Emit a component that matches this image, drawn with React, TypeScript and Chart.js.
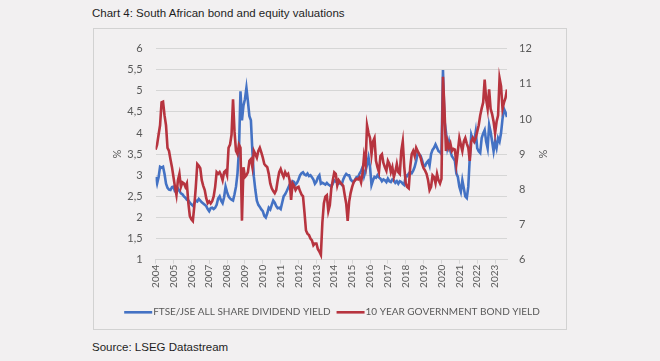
import React, { useEffect, useRef } from "react";
import { Chart, registerables } from "chart.js";

Chart.register(...registerables);

// ---------- data ----------
const FIRST_YEAR = 2004;
const years = [2004, 2005, 2006, 2007, 2008, 2009, 2010, 2011, 2012, 2013, 2014, 2015, 2016, 2017, 2018, 2019, 2020, 2021, 2022, 2023];

// FTSE/JSE All Share dividend yield (%), monthly from Jan 2004 (left axis)
const dividendYield = [
  2.96, 2.80, 2.95, 3.20, 3.18, 3.20, 3.03, 2.80, 2.70, 2.66, 2.65, 2.72,
  2.73, 2.62, 2.60, 2.69, 2.63, 2.57, 2.55, 2.50, 2.47, 2.42, 2.40, 2.35,
  2.31, 2.28, 2.34, 2.40, 2.38, 2.44, 2.40, 2.36, 2.33, 2.30, 2.27, 2.20,
  2.15, 2.22, 2.23, 2.20, 2.23, 2.30, 2.45, 2.50, 2.40, 2.34, 2.48, 2.73,
  2.60, 2.50, 2.45, 2.42, 2.40, 2.55, 2.73, 3.04, 3.60, 4.99, 4.30, 4.65,
  4.80, 5.07, 4.75, 4.40, 4.30, 3.57, 2.96, 2.65, 2.40, 2.30, 2.25, 2.19,
  2.15, 2.04, 2.00, 2.10, 2.23, 2.19, 2.30, 2.40, 2.35, 2.27, 2.22, 2.23,
  2.20, 2.35, 2.50, 2.55, 2.62, 2.70, 2.78, 2.80, 2.86, 2.84, 2.78, 2.82,
  2.90, 3.00, 3.05, 3.07, 3.02, 3.00, 3.04, 2.98, 3.00, 2.95, 2.90, 2.80,
  2.85, 2.95, 3.00, 2.80, 2.82, 2.80, 2.78, 2.82, 2.78, 2.76, 2.73, 2.80,
  2.88, 2.85, 2.84, 2.80, 2.82, 2.78, 2.90, 2.98, 3.03, 3.00, 3.00, 2.90,
  2.86, 2.84, 2.90, 2.96, 2.96, 3.04, 3.10, 3.19, 2.98, 3.10, 3.25, 3.42,
  3.20, 2.77, 2.88, 2.96, 2.94, 3.00, 2.95, 2.92, 2.86, 2.90, 2.88, 2.84,
  2.92, 2.86, 2.84, 2.90, 2.88, 2.82, 2.86, 2.80, 2.86, 2.84, 2.80, 2.77,
  3.00, 2.98, 3.04, 3.08, 3.05, 3.11, 3.20, 3.34, 3.53, 3.50, 3.46, 3.35,
  3.23, 3.22, 3.30, 3.34, 3.23, 3.50, 3.60, 3.65, 3.73, 3.65, 3.57, 3.55,
  3.50, 5.49, 4.30, 4.03, 3.65, 3.80, 3.57, 3.45, 3.40, 3.34, 3.04, 2.96,
  2.73, 2.61, 2.88, 2.69, 2.50, 2.46, 2.73, 3.42, 3.96, 3.85, 3.80, 4.03,
  3.64, 3.57, 3.53, 3.88, 3.99, 4.07, 3.80, 3.64, 4.19, 4.03, 3.80, 3.57,
  3.80, 3.65, 3.88, 3.80, 4.00, 4.34, 4.57, 4.49, 4.38,
];

// 10-year government bond yield (%), monthly from Jan 2004 (right axis)
const bondYield = [
  9.13, 9.27, 9.55, 9.82, 10.47, 10.49, 10.10, 9.82, 9.18, 9.09, 8.85, 8.63,
  8.35, 8.07, 7.84, 8.26, 8.44, 8.07, 8.20, 8.17, 8.07, 8.17, 7.61, 7.24,
  7.15, 7.10, 7.52, 8.07, 8.72, 8.67, 8.60, 8.26, 8.10, 7.98, 7.75, 7.61,
  7.66, 7.60, 7.66, 7.80, 8.07, 8.49, 8.44, 8.49, 8.40, 8.26, 8.49, 8.53,
  8.40, 9.18, 9.27, 9.55, 10.56, 9.64, 9.09, 9.00, 9.27, 9.18, 7.11, 8.63,
  8.35, 8.40, 8.49, 8.81, 8.86, 8.63, 9.09, 9.00, 8.90, 9.09, 9.18, 9.05,
  8.90, 8.72, 8.67, 8.63, 8.44, 8.17, 8.03, 7.95, 7.89, 7.98, 8.26, 8.49,
  8.58, 8.45, 8.35, 8.49, 8.40, 8.44, 8.26, 7.70, 8.17, 8.10, 7.98, 8.05,
  8.07, 7.95, 7.85, 7.80, 7.34, 6.83, 6.74, 6.70, 6.60, 6.55, 6.41, 6.46,
  6.46, 6.30, 6.23, 6.14, 7.05, 7.60, 7.79, 7.83, 7.38, 7.55, 8.02, 8.26,
  8.48, 8.44, 8.11, 8.26, 8.20, 8.15, 8.10, 7.84, 7.60, 7.10, 7.65, 7.90,
  8.07, 8.20, 8.26, 8.30, 8.28, 8.34, 8.20, 8.45, 8.95, 8.72, 9.82, 9.60,
  9.46, 9.00, 9.36, 9.46, 8.81, 8.63, 8.49, 8.95, 9.00, 8.75, 8.63, 8.53,
  8.81, 8.72, 8.49, 8.63, 8.35, 8.50, 8.72, 8.49, 8.44, 9.09, 9.36, 8.63,
  8.17, 8.07, 8.03, 8.63, 9.00, 9.09, 8.95, 9.18, 9.09, 9.00, 8.90, 8.72,
  8.60, 8.53, 8.44, 8.26, 7.98, 8.07, 8.40, 8.35, 8.17, 8.44, 8.26, 8.17,
  8.30, 11.20, 10.29, 9.09, 9.36, 9.18, 9.30, 9.09, 9.15, 9.13, 8.72, 9.09,
  9.46, 9.27, 9.09, 9.36, 9.46, 9.30, 9.18, 8.81, 9.36, 9.46, 9.36, 9.46,
  9.64, 9.82, 10.10, 10.30, 10.47, 11.12, 10.56, 10.29, 10.84, 10.29, 10.14, 9.92,
  9.60, 9.92, 10.10, 11.16, 10.93, 10.29, 10.47, 10.60, 10.84,
];

const seriesLabels = ["FTSE/JSE ALL SHARE DIVIDEND YIELD", "10 YEAR GOVERNMENT BOND YIELD"];

// ---------- styling ----------
const BG = "#f2f0f1";
const BLUE = "#4472C4";
const RED = "#B7343F";
const GRID = "#d6d6d6";
const TICK = "#595959";
const FONT = "Lato, 'Open Sans', sans-serif";

const W = 472;
const H = 300;
const PLOT_LEFT = 61.6;
const PLOT_RIGHT = 413;
const PLOT_TOP = 13.7;
const PLOT_BOTTOM = 230.7;
const LEGEND_FONT = 10;
const LEGEND_PAD = 2;
const BOTTOM_PAD = 2;
const LEGEND_BOX = 28;

// legend swatch: a short line that runs up to the label text
function legendLine(color: string): HTMLCanvasElement {
  const c = document.createElement("canvas");
  c.width = 38;
  c.height = 4;
  const g = c.getContext("2d");
  if (g) {
    g.fillStyle = color;
    g.fillRect(9, 1, 28, 2.6);
  }
  return c;
}

export default function App() {
  const ref = useRef<HTMLCanvasElement | null>(null);

  useEffect(() => {
    if (!ref.current) return;
    const toPoints = (arr: number[]) => arr.map((v, i) => ({ x: FIRST_YEAR + i / 12, y: v }));
    const legendH = LEGEND_FONT + LEGEND_PAD + 10;
    const xAxisH = H - BOTTOM_PAD - legendH - PLOT_BOTTOM;

    const chart = new Chart(ref.current, {
      type: "line",
      data: {
        datasets: [
          {
            label: seriesLabels[0],
            data: toPoints(dividendYield),
            borderColor: BLUE,
            backgroundColor: BLUE,
            borderWidth: 2.6,
            pointRadius: 0,
            pointStyle: legendLine(BLUE),
            tension: 0,
            yAxisID: "y",
            order: 1,
          },
          {
            label: seriesLabels[1],
            data: toPoints(bondYield),
            borderColor: RED,
            backgroundColor: RED,
            borderWidth: 2.6,
            pointRadius: 0,
            pointStyle: legendLine(RED),
            tension: 0,
            yAxisID: "y1",
            order: 0,
          },
        ],
      },
      options: {
        responsive: false,
        animation: false,
        devicePixelRatio: 1,
        layout: { padding: { top: PLOT_TOP, left: 0, right: 0, bottom: BOTTOM_PAD } },
        plugins: {
          tooltip: { enabled: false },
          legend: {
            position: "bottom",
            labels: {
              usePointStyle: true,
              pointStyleWidth: LEGEND_BOX,
              padding: LEGEND_PAD,
              color: TICK,
              font: { family: FONT, size: LEGEND_FONT },
              sort: (a: any, b: any) => a.datasetIndex - b.datasetIndex,
            },
          },
        },
        scales: {
          x: {
            type: "linear",
            min: FIRST_YEAR,
            max: FIRST_YEAR + (dividendYield.length - 1) / 12,
            afterBuildTicks: (s: any) => {
              s.ticks = years.map((v) => ({ value: v }));
            },
            afterFit: (s: any) => {
              s.height = xAxisH;
            },
            ticks: {
              autoSkip: false,
              maxRotation: 90,
              minRotation: 90,
              padding: 1,
              color: TICK,
              font: { family: FONT, size: 10 },
              callback: (v: any) => String(v),
            },
            grid: { drawOnChartArea: false, drawTicks: true, tickLength: 4, color: GRID },
            border: { display: true, color: GRID },
          },
          y: {
            position: "left",
            min: 1,
            max: 6,
            afterFit: (s: any) => {
              s.width = PLOT_LEFT;
            },
            ticks: {
              stepSize: 0.5,
              padding: 13,
              color: TICK,
              font: { family: FONT, size: 11 },
              callback: (v: any) => String(v).replace(".", ","),
            },
            grid: { color: GRID, drawTicks: false },
            border: { display: false },
            title: {
              display: true,
              text: "%",
              color: TICK,
              font: { family: FONT, size: 11 },
              padding: { top: 17, bottom: 0 },
            },
          },
          y1: {
            position: "right",
            min: 6,
            max: 12,
            afterFit: (s: any) => {
              s.width = W - PLOT_RIGHT;
            },
            ticks: {
              stepSize: 1,
              padding: 12,
              color: TICK,
              font: { family: FONT, size: 11 },
            },
            grid: { drawOnChartArea: false, drawTicks: false },
            border: { display: false },
            title: {
              display: true,
              text: "%",
              color: TICK,
              font: { family: FONT, size: 11 },
              padding: { top: 16.4, bottom: 0 },
            },
          },
        },
      } as any,
    });
    return () => chart.destroy();
  }, []);

  return (
    <div
      style={{
        position: "fixed",
        left: 0,
        top: 0,
        width: 660,
        height: 361,
        background: BG,
        overflow: "hidden",
      }}
    >
      <div
        style={{
          position: "absolute",
          left: 92,
          top: 6,
          font: "11.5px 'Liberation Sans', Arial, sans-serif",
          lineHeight: "14px",
          color: "#1e1e1e",
          whiteSpace: "nowrap",
        }}
      >
        Chart 4: South African bond and equity valuations
      </div>
      <div
        style={{
          position: "absolute",
          left: 93,
          top: 28,
          width: W + 2,
          height: H + 2,
          border: "1px solid #d2d2d2",
          boxSizing: "border-box",
        }}
      >
        <canvas ref={ref} width={W} height={H} style={{ display: "block", width: W, height: H }} />
      </div>
      <div
        style={{
          position: "absolute",
          left: 92,
          top: 340,
          font: "11.5px 'Liberation Sans', Arial, sans-serif",
          lineHeight: "14px",
          color: "#1e1e1e",
          whiteSpace: "nowrap",
        }}
      >
        Source: LSEG Datastream
      </div>
    </div>
  );
}
